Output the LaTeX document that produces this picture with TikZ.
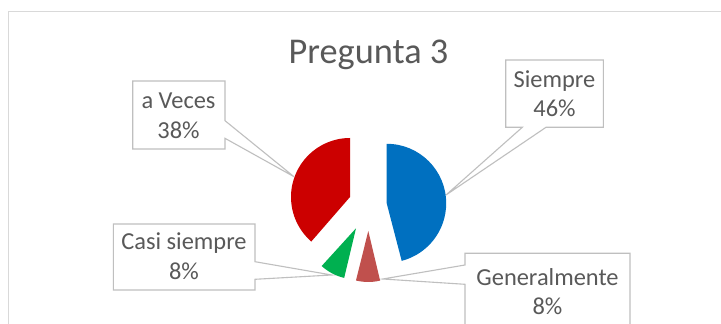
\documentclass[tikz,border=0pt]{standalone}
\usepackage{fontspec}
\setmainfont{Carlito}
\definecolor{txtgray}{HTML}{595959}
\definecolor{boxgray}{HTML}{BFBFBF}
\definecolor{framegray}{HTML}{D9D9D9}
\definecolor{sredA}{HTML}{CC0000}
\definecolor{sblue}{HTML}{0070C0}
\definecolor{sgreen}{HTML}{00B050}
\definecolor{sbrown}{HTML}{C0504D}
\begin{document}
\begin{tikzpicture}[x=1pt,y=1pt,
  callout/.style={draw=boxgray,line width=1.1pt,line join=miter},
  lbl/.style={text=txtgray,align=center,anchor=base,inner sep=0pt,
    font=\fontsize{24.4}{29.5}\selectfont},
  ttl/.style={text=txtgray,anchor=base,inner sep=0pt,font=\fontsize{36.3}{44}\selectfont}]
\useasboundingbox (0,0) rectangle (721,324);
\clip (0,0) rectangle (721,324);
\fill[white] (0,0) rectangle (721,324);
% chart frame
\draw[framegray,line width=1.3pt] (8.3,-20) -- (8.3,312.7) -- (740,312.7);
% title
\node[ttl] (title) at (368.5,260) {Pregunta 3};
% tips of callouts
\coordinate (tipV) at (294,147.3);
\coordinate (tipS) at (446,129);
\coordinate (tipC) at (331.7,49);
\coordinate (tipG) at (382.7,45);
% callouts
\draw[callout] (132.7,243) -- (225,243) -- (225,203.3) -- (tipV) -- (225,185.7) -- (225,175) -- (132.7,175) -- cycle;
\draw[callout] (505.7,264) -- (603.3,264) -- (603.3,196.7) -- (546,196.7) -- (tipS) -- (522.3,196.7) -- (505.7,196.7) -- cycle;
\draw[callout] (113.3,100) -- (255,100) -- (255,62.3) -- (tipC) -- (255,44.7) -- (255,34) -- (113.3,34) -- cycle;
\draw[callout] (465,70.7) -- (630,70.7) -- (630,-20) -- (465,-20) -- (465,39.7) -- (tipG) -- (465,59) -- cycle;
% labels (anchor = baseline of the last line)
\node[lbl] (lV) at (178.5,185.7) {a Veces\\38\%};
\node[lbl] (lS) at (554.5,207.3) {Siempre\\46\%};
\node[lbl] (lC) at (184,44.7) {Casi siempre\\8\%};
\node[lbl] (lG) at (547.5,9) {Generalmente\\8\%};
% pie slices
\fill[sredA] (350,127) -- ++(90:59) arc[start angle=90,end angle=229,radius=59] -- cycle;
\fill[sblue] (386.7,120.7) -- ++(90:59.5) arc[start angle=90,end angle=-75.4,radius=59.5] -- cycle;
\fill[sgreen] (356,95.7) -- ++(227.7:51) arc[start angle=227.7,end angle=256.6,radius=51] -- cycle;
\fill[sbrown] (368.3,93) -- ++(256:51) arc[start angle=256,end angle=283.4,radius=51] -- cycle;
\end{tikzpicture}
\end{document}
